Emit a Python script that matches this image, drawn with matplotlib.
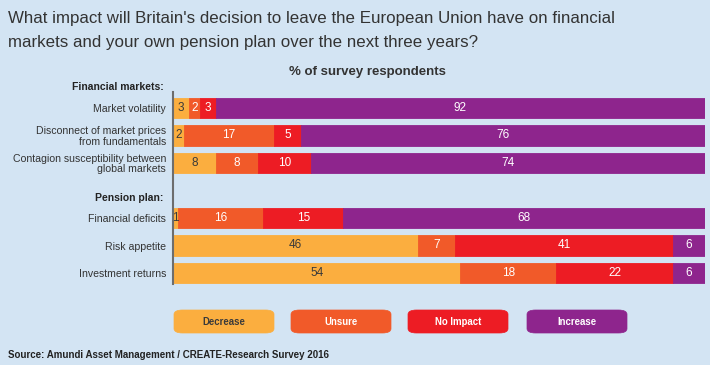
import matplotlib.pyplot as plt
from matplotlib.patches import FancyBboxPatch
import numpy as np

plt.rcParams['font.family'] = ['Liberation Sans Narrow', 'Liberation Sans', 'DejaVu Sans']

labels = ["Market volatility", "Disconnect of market prices\nfrom fundamentals",
          "Contagion susceptibility between\nglobal markets",
          "Financial deficits", "Risk appetite", "Investment returns"]
rows = [0, 1, 2, 4, 5, 6]
series = ["Decrease", "Unsure", "No Impact", "Increase"]
decrease = [3, 2, 8, 1, 46, 54]
unsure = [2, 17, 8, 16, 7, 18]
no_impact = [3, 5, 10, 15, 41, 22]
increase = [92, 76, 74, 68, 6, 6]
colors = ["#FBAE3F", "#F15A29", "#ED1C24", "#8E258D"]
text_colors = ["#3a3a3a", "white", "white", "white"]
bg = "#D3E4F3"

W, H = 710, 365
fig = plt.figure(figsize=(7.1, 3.65), dpi=100, facecolor=bg)

def px(x0, y0, x1, y1):
    return [x0 / W, 1 - y1 / H, (x1 - x0) / W, (y1 - y0) / H]

ax = fig.add_axes(px(173, 83.25, 705, 289.5))
ax.set_facecolor(bg)
ax.set_xlim(0, 100)
ax.set_ylim(6.6, -0.9)

data = [decrease, unsure, no_impact, increase]
left = np.zeros(len(rows))
for vals, c, tc in zip(data, colors, text_colors):
    vals = np.array(vals)
    ax.barh(rows, vals, left=left, height=0.73, color=c, edgecolor=c, linewidth=0.6)
    for r, l, v in zip(rows, left, vals):
        ax.text(l + v / 2, r, str(v), ha="center", va="center", color=tc, fontsize=8.5)
    left += vals

for s in ["top", "right", "bottom"]:
    ax.spines[s].set_visible(False)
ax.spines["left"].set_color("#6d6d6d")
ax.spines["left"].set_linewidth(1.5)
ax.spines["left"].set_bounds(-0.6, 6.4)
ax.set_xticks([])
ax.set_yticks(rows)
ax.set_yticklabels(labels, fontsize=7.6, color="#333333", linespacing=1.05)
ax.tick_params(axis="y", length=0, pad=5)

ax.text(-1.8, -0.77, "Financial markets:", ha="right", va="center", fontsize=7.5,
        fontweight="bold", color="#222222")
ax.text(-1.8, 3.28, "Pension plan:", ha="right", va="center", fontsize=7.5,
        fontweight="bold", color="#222222")

fig.text(8 / W, 1 - 18 / H, "What impact will Britain's decision to leave the European Union have on financial",
         ha="left", va="center", fontsize=12.2, color="#333333")
fig.text(8 / W, 1 - 42 / H, "markets and your own pension plan over the next three years?",
         ha="left", va="center", fontsize=12.2, color="#333333")
fig.text(367 / W, 1 - 72 / H, "% of survey respondents", ha="center", va="center",
         fontsize=9.5, fontweight="bold", color="#333333")

box_x = [174, 291, 408, 527]
for name, c, tc, bx in zip(series, colors, text_colors, box_x):
    p = FancyBboxPatch((bx / W, 1 - 333 / H), 100 / W, 23 / H,
                       boxstyle="round,pad=0,rounding_size=0.012",
                       transform=fig.transFigure, facecolor=c, edgecolor=c, linewidth=0.5)
    fig.patches.append(p)
    fig.text((bx + 50) / W, 1 - 322 / H, name, ha="center", va="center",
             fontsize=6.9, fontweight="bold", color=tc)

fig.text(8 / W, 1 - 355 / H, "Source: Amundi Asset Management / CREATE-Research Survey 2016",
         ha="left", va="center", fontsize=7.0, fontweight="bold", color="#222222")

fig.savefig("out.png", dpi=100, facecolor=bg)
